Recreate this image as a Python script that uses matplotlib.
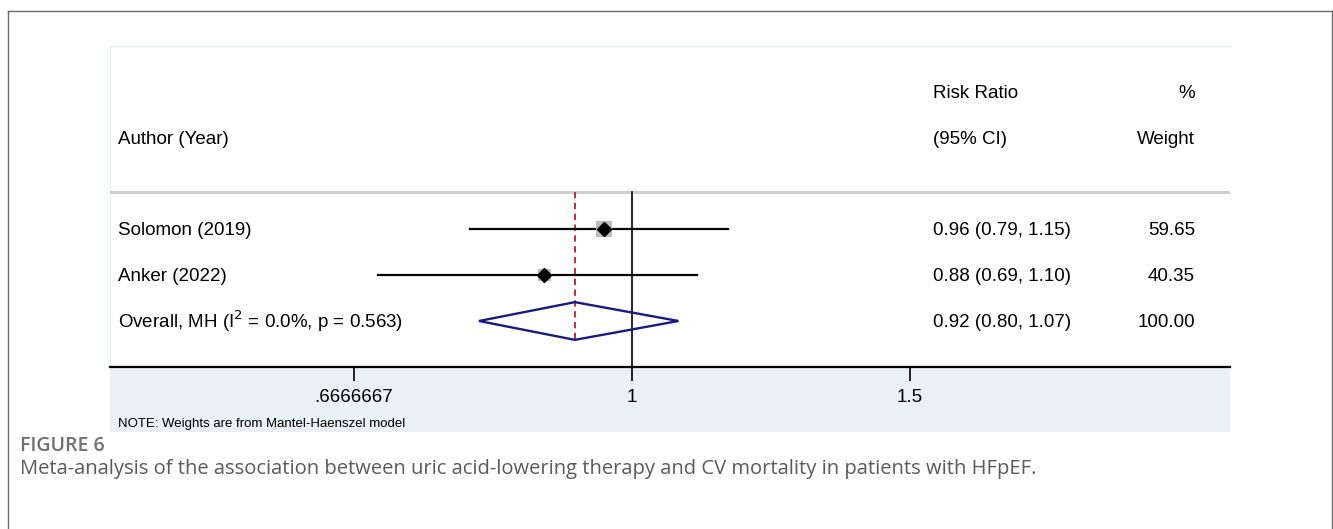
import matplotlib
matplotlib.use("Agg")
import matplotlib.pyplot as plt
from matplotlib.patches import Polygon, Rectangle
import numpy as np

# ---------------- data ----------------
studies = ["Solomon (2019)", "Anker (2022)"]
rr = [0.96, 0.88]
ci_low = [0.79, 0.69]
ci_high = [1.15, 1.10]
weights = [59.65, 40.35]
rr_labels = ["0.96 (0.79, 1.15)", "0.88 (0.69, 1.10)"]
weight_labels = ["59.65", "40.35"]

overall_label = "Overall, MH (I$^{2}$ = 0.0%, p = 0.563)"
overall_rr = 0.92
overall_low = 0.80
overall_high = 1.07
overall_rr_label = "0.92 (0.80, 1.07)"
overall_weight_label = "100.00"

xticks = [2 / 3, 1, 1.5]
xtick_labels = [".6666667", "1", "1.5"]

note = "NOTE: Weights are from Mantel-Haenszel model"
fig_label = "FIGURE 6"
caption = ("Meta-analysis of the association between uric acid-lowering therapy "
           "and CV mortality in patients with HFpEF.")

# ---------------- figure ----------------
W, H = 1333, 529
fig = plt.figure(figsize=(W / 100, H / 100), dpi=100)
fig.patch.set_facecolor("white")

# outer border (open at the bottom)
fig.add_artist(plt.Line2D([8 / W, 8 / W], [0, 1 - 11 / H], color="#6b6b6b", lw=1.0,
                          transform=fig.transFigure))
fig.add_artist(plt.Line2D([8 / W, 1332 / W], [1 - 11 / H, 1 - 11 / H], color="#6b6b6b",
                          lw=1.0, transform=fig.transFigure))
fig.add_artist(plt.Line2D([1332 / W, 1332 / W], [0, 1 - 11 / H], color="#6b6b6b", lw=1.0,
                          transform=fig.transFigure))

px_l, px_r, px_t, px_b = 110, 1230, 46, 432
ax = fig.add_axes([px_l / W, 1 - px_b / H, (px_r - px_l) / W, (px_b - px_t) / H])
ax.set_xscale("log")
ax.set_xlim(0.467, 2.392)
ax.set_ylim(4.413, -3.978)
ax.set_facecolor("white")

FONT = "Liberation Sans"
FS = 13.5

# light blue bottom band
ax.axhspan(3, 4.413, color="#e9f1f4", zorder=0, lw=0)

# spines
for s in ["top", "right", "left"]:
    ax.spines[s].set_visible(False)
ax.spines["bottom"].set_position(("data", 3))
ax.spines["bottom"].set_linewidth(1.6)
ax.spines["bottom"].set_zorder(5)
ax.add_patch(Rectangle((0, 0), 1, 1, transform=ax.transAxes, fill=False,
                       edgecolor="#e6eff3", lw=1.0, zorder=1))
ax.set_yticks([])
ax.set_xticks(xticks)
ax.set_xticklabels(xtick_labels, fontfamily=FONT, fontsize=FS)
ax.minorticks_off()
ax.tick_params(axis="x", which="major", direction="out", length=10, width=1.2, pad=6)

yt = ax.get_yaxis_transform()

# header separator
ax.axhline(-0.804, color="#cfcfcf", lw=2.2, zorder=2)

# line of no effect
ax.plot([1, 1], [-0.804, 3], color="black", lw=1.2, zorder=3)

# overall dashed line
ax.plot([overall_rr, overall_rr], [-0.804, 2.41], color="#b41f2b", lw=1.3,
        dashes=(3.5, 2.5), zorder=3)

# study rows
rows = np.arange(len(studies))
for i in rows:
    ax.plot([ci_low[i], ci_high[i]], [i, i], color="black", lw=1.6, zorder=4)
ax.scatter(rr, rows, s=[2.1 * w for w in weights], marker="s", color="#bdbdbd",
           zorder=5, lw=0)
ax.plot(rr, rows, ls="none", marker="D", markersize=7, color="black", zorder=6)

# overall diamond
oy = len(studies)
diamond = Polygon([(overall_low, oy), (overall_rr, oy - 0.41), (overall_high, oy),
                   (overall_rr, oy + 0.41)], closed=True, fill=False,
                  edgecolor="#1a1a80", lw=1.7, zorder=6)
ax.add_patch(diamond)

# text columns
x_auth = (118 - px_l) / (px_r - px_l)
x_rr = (933 - px_l) / (px_r - px_l)
x_w = (1195 - px_l) / (px_r - px_l)

kw = dict(transform=yt, fontfamily=FONT, fontsize=FS, va="center", color="black")
dy = 0.04
ax.text(x_auth, -1.98 + dy, "Author (Year)", ha="left", **kw)
ax.text(x_rr, -2.98 + dy, "Risk Ratio", ha="left", **kw)
ax.text(x_rr, -1.98 + dy, "(95% CI)", ha="left", **kw)
ax.text(x_w, -2.98 + dy, "%", ha="right", **kw)
ax.text(x_w, -1.98 + dy, "Weight", ha="right", **kw)

for i in rows:
    ax.text(x_auth, i + dy, studies[i], ha="left", **kw)
    ax.text(x_rr, i + dy, rr_labels[i], ha="left", **kw)
    ax.text(x_w, i + dy, weight_labels[i], ha="right", **kw)

ax.text(x_auth, oy, overall_label, ha="left", **kw)
ax.text(x_rr, oy + dy, overall_rr_label, ha="left", **kw)
ax.text(x_w, oy + dy, overall_weight_label, ha="right", **kw)

ax.text(x_auth, 4.24, note, transform=yt, fontfamily=FONT, fontsize=9.5,
        va="center", ha="left", color="black")

# caption
fig.text(20 / W, 1 - 446 / H, fig_label, fontfamily="Open Sans", fontsize=14,
         fontweight="semibold", color="#707070", va="center", ha="left")
fig.text(20 / W, 1 - 469 / H, caption, fontfamily="Open Sans", fontsize=14.5,
         color="#5a5a5a", va="center", ha="left")

fig.savefig("out.png", dpi=100)
